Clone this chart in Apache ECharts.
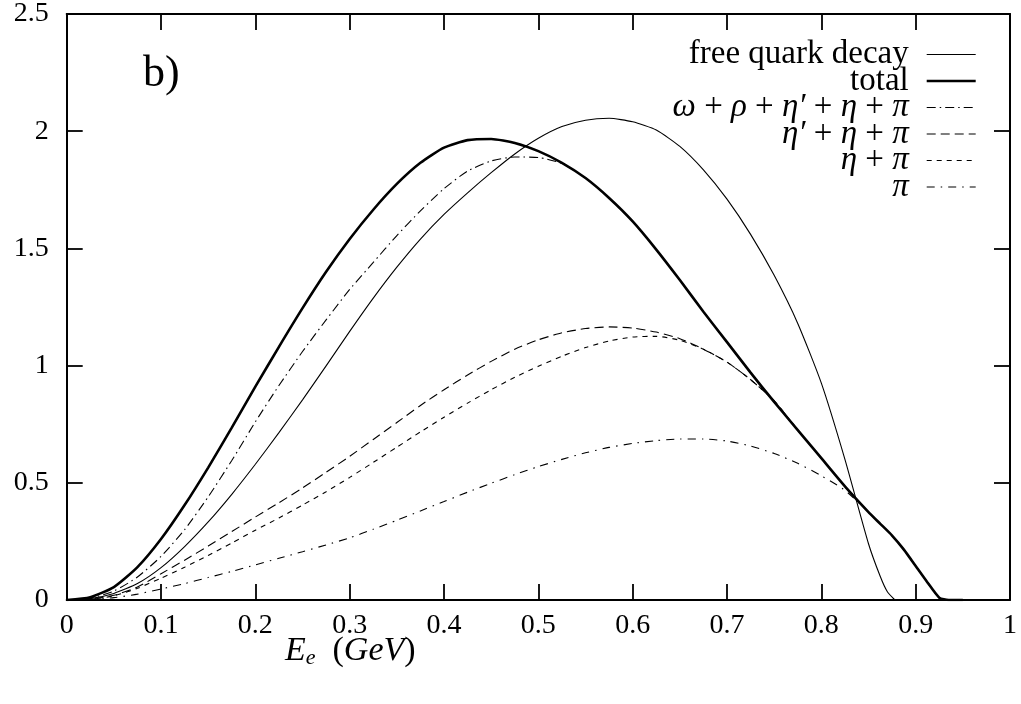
<!DOCTYPE html>
<html><head><meta charset="utf-8">
<script src="https://cdn.jsdelivr.net/npm/echarts@6/dist/echarts.min.js"></script>
<style>html,body{margin:0;padding:0;background:#fff}#c{width:1021px;height:704px}</style>
</head><body><div id="c"></div>
<script>
// ---- data ----
const seriesNames = ['free quark decay', 'total', 'ω + ρ + η′ + η + π', 'η′ + η + π', 'η + π', 'π'];
const xTicks = [0, 0.1, 0.2, 0.3, 0.4, 0.5, 0.6, 0.7, 0.8, 0.9, 1];
const yTicks = [0, 0.5, 1, 1.5, 2, 2.5];

const xFree = [0,0.025,0.05,0.075,0.1,0.125,0.15,0.175,0.2,0.225,0.25,0.275,0.3,0.325,0.35,0.375,0.4,0.425,0.45,0.475,0.5,0.525,0.55,0.575,0.6,0.625,0.65,0.675,0.7,0.725,0.75,0.775,0.8,0.825,0.85,0.8625,0.87,0.878];
const yFree = [0,0.006,0.028,0.07,0.138,0.228,0.333,0.451,0.579,0.714,0.854,0.999,1.146,1.288,1.42,1.54,1.645,1.737,1.823,1.903,1.97,2.02,2.047,2.055,2.04,2.005,1.935,1.835,1.71,1.56,1.385,1.18,0.925,0.60,0.24,0.10,0.035,0];

const xTotal = [0,0.025,0.05,0.075,0.1,0.125,0.15,0.175,0.2,0.225,0.25,0.275,0.3,0.325,0.35,0.375,0.4,0.425,0.45,0.475,0.5,0.525,0.55,0.575,0.6,0.625,0.65,0.675,0.7,0.725,0.75,0.775,0.8,0.825,0.85,0.8625,0.875,0.8875,0.9,0.9125,0.925,0.935,0.95];
const yTotal = [0,0.012,0.055,0.14,0.26,0.405,0.565,0.735,0.91,1.08,1.245,1.40,1.54,1.665,1.775,1.865,1.93,1.962,1.967,1.95,1.915,1.865,1.80,1.715,1.615,1.495,1.365,1.23,1.10,0.97,0.845,0.725,0.605,0.485,0.375,0.325,0.275,0.215,0.145,0.075,0.01,0,0];

const xOmega = [0,0.025,0.05,0.075,0.1,0.125,0.15,0.175,0.2,0.225,0.25,0.275,0.3,0.325,0.35,0.375,0.4,0.425,0.45,0.475,0.5,0.525,0.55,0.575,0.6,0.625,0.65,0.675,0.7,0.725,0.75,0.775,0.8,0.825,0.85,0.8625,0.875,0.8875,0.9,0.9125,0.925,0.935,0.95];
const yOmega = [0,0.008,0.038,0.098,0.186,0.30,0.44,0.595,0.76,0.915,1.06,1.195,1.325,1.44,1.555,1.66,1.755,1.83,1.873,1.89,1.888,1.862,1.80,1.715,1.615,1.495,1.365,1.23,1.10,0.97,0.845,0.725,0.605,0.485,0.375,0.325,0.275,0.215,0.145,0.075,0.01,0,0];

const xEtaP = [0,0.025,0.05,0.075,0.1,0.125,0.15,0.175,0.2,0.225,0.25,0.275,0.3,0.325,0.35,0.375,0.4,0.425,0.45,0.475,0.5,0.525,0.55,0.575,0.6,0.625,0.65,0.675,0.7,0.725,0.75,0.775,0.8,0.825,0.85,0.8625,0.875,0.8875,0.9,0.9125,0.925,0.935,0.95];
const yEtaP = [0,0.004,0.02,0.055,0.112,0.17,0.23,0.292,0.354,0.415,0.478,0.545,0.613,0.685,0.757,0.83,0.897,0.96,1.018,1.07,1.11,1.14,1.158,1.165,1.16,1.143,1.115,1.07,1.015,0.94,0.85,0.725,0.605,0.485,0.375,0.325,0.275,0.215,0.145,0.075,0.01,0,0];

const xEta = [0,0.025,0.05,0.075,0.1,0.125,0.15,0.175,0.2,0.225,0.25,0.275,0.3,0.325,0.35,0.375,0.4,0.425,0.45,0.475,0.5,0.525,0.55,0.575,0.6,0.625,0.65,0.675,0.7,0.725,0.75,0.775,0.8,0.825,0.85,0.8625,0.875,0.8875,0.9,0.9125,0.925,0.935,0.95];
const yEta = [0,0.003,0.018,0.05,0.093,0.14,0.19,0.243,0.298,0.35,0.405,0.462,0.523,0.587,0.652,0.717,0.78,0.84,0.897,0.95,0.997,1.04,1.077,1.105,1.122,1.125,1.108,1.07,1.015,0.94,0.85,0.725,0.605,0.485,0.375,0.325,0.275,0.215,0.145,0.075,0.01,0,0];

const xPi = [0,0.025,0.05,0.075,0.1,0.125,0.15,0.175,0.2,0.225,0.25,0.275,0.3,0.325,0.35,0.375,0.4,0.425,0.45,0.475,0.5,0.525,0.55,0.575,0.6,0.625,0.65,0.675,0.7,0.725,0.75,0.775,0.8,0.825,0.85,0.8625,0.875,0.8875,0.9,0.9125,0.925,0.935,0.95];
const yPi = [0,0.002,0.01,0.025,0.047,0.07,0.096,0.122,0.15,0.178,0.206,0.235,0.265,0.302,0.34,0.38,0.42,0.46,0.498,0.535,0.569,0.60,0.628,0.651,0.668,0.68,0.687,0.687,0.678,0.657,0.625,0.583,0.53,0.468,0.375,0.325,0.275,0.215,0.145,0.075,0.01,0,0];

// ---- build ----
function pairs(xs, ys) { return xs.map((x, i) => [x, ys[i]]); }
const FONT = 'Liberation Serif';
const styles = [
  { width: 1.1, type: 'solid' },
  { width: 2.6, type: 'solid' },
  { width: 1.1, type: [9, 4, 1.5, 4] },
  { width: 1.1, type: [9, 5] },
  { width: 1.1, type: [5, 5] },
  { width: 1.1, type: [8, 6, 1.5, 6] }
];
const dataSets = [pairs(xFree, yFree), pairs(xTotal, yTotal), pairs(xOmega, yOmega), pairs(xEtaP, yEtaP), pairs(xEta, yEta), pairs(xPi, yPi)];
const LFS = 33;
const legendRich = {
  n: { fontFamily: FONT, fontSize: LFS, color: '#000', lineHeight: 26 },
  g: { fontFamily: FONT, fontSize: LFS, fontStyle: 'italic', color: '#000', lineHeight: 26 }
};
const legendFmt = {
  'free quark decay': '{n|free quark decay}',
  'total': '{n|total}',
  'ω + ρ + η′ + η + π': '{g|ω}{n| + }{g|ρ}{n| + }{g|η′}{n| + }{g|η}{n| + }{g|π}',
  'η′ + η + π': '{g|η′}{n| + }{g|η}{n| + }{g|π}',
  'η + π': '{g|η}{n| + }{g|π}',
  'π': '{g|π}'
};

const axisLineStyle = { color: '#000', width: 2 };
const tickStyle = { color: '#000', width: 1.8 };

const option = {
  animation: false,
  backgroundColor: '#fff',
  grid: { left: 66.7, right: 11, top: 10, bottom: 104 },
  legend: {
    orient: 'vertical', align: 'right', right: 44, top: 38, padding: 0,
    itemWidth: 49, itemHeight: 10, itemGap: -6.5,
    data: seriesNames.map((n, i) => ({ name: n, lineStyle: { width: styles[i].width, type: styles[i].type, color: '#000' } })),
    itemStyle: { opacity: 0 },
    formatter: n => legendFmt[n],
    textStyle: { fontFamily: FONT, fontSize: LFS, color: '#000', lineHeight: 26, padding: [0, 13, 0, 0], rich: legendRich }
  },
  xAxis: [
    { type: 'value', min: 0, max: 1, interval: 0.1, position: 'bottom',
      axisLine: { onZero: false, lineStyle: axisLineStyle },
      axisTick: { inside: true, length: 16, lineStyle: tickStyle },
      splitLine: { show: false },
      axisLabel: { margin: 12, fontFamily: FONT, fontSize: 28, color: '#000', formatter: v => String(Math.round(v * 10) / 10) } },
    { type: 'value', min: 0, max: 1, interval: 0.1, position: 'top',
      axisLine: { onZero: false, lineStyle: axisLineStyle },
      axisTick: { inside: true, length: 16, lineStyle: tickStyle },
      splitLine: { show: false }, axisLabel: { show: false } }
  ],
  yAxis: [
    { type: 'value', min: 0, max: 2.5, interval: 0.5, position: 'left',
      axisLine: { show: true, onZero: false, lineStyle: axisLineStyle },
      axisTick: { show: true, inside: true, length: 16, lineStyle: tickStyle },
      splitLine: { show: false },
      axisLabel: { margin: 18, fontFamily: FONT, fontSize: 28, color: '#000', formatter: v => String(Math.round(v * 10) / 10) } },
    { type: 'value', min: 0, max: 2.5, interval: 0.5, position: 'right',
      axisLine: { show: true, onZero: false, lineStyle: axisLineStyle },
      axisTick: { show: true, inside: true, length: 16, lineStyle: tickStyle },
      splitLine: { show: false }, axisLabel: { show: false } }
  ],
  graphic: [
    { type: 'text', left: 143, top: 52, style: { text: 'b)', font: '44px "Liberation Serif"', fill: '#000' } },
    { type: 'text', left: 285, top: 634, style: {
        text: '{i|E}{s|e}{n|  (}{i|GeV}{n|)}',
        rich: {
          i: { font: 'italic 34px "Liberation Serif"', fill: '#000' },
          s: { font: 'italic 22px "Liberation Serif"', fill: '#000', padding: [14, 0, 0, 0] },
          n: { font: '34px "Liberation Serif"', fill: '#000' }
        } } }
  ],
  series: seriesNames.map((name, i) => ({
    name, type: 'line', xAxisIndex: 0, yAxisIndex: 0,
    data: dataSets[i], showSymbol: false, symbol: 'none', smooth: 0.2,
    itemStyle: { color: '#000' },
    lineStyle: { color: '#000', width: styles[i].width, type: styles[i].type },
    z: i === 1 ? 3 : 2
  }))
};
const chart = echarts.init(document.getElementById('c'), null, { renderer: 'canvas' });
chart.setOption(option);
</script>
</body></html>
